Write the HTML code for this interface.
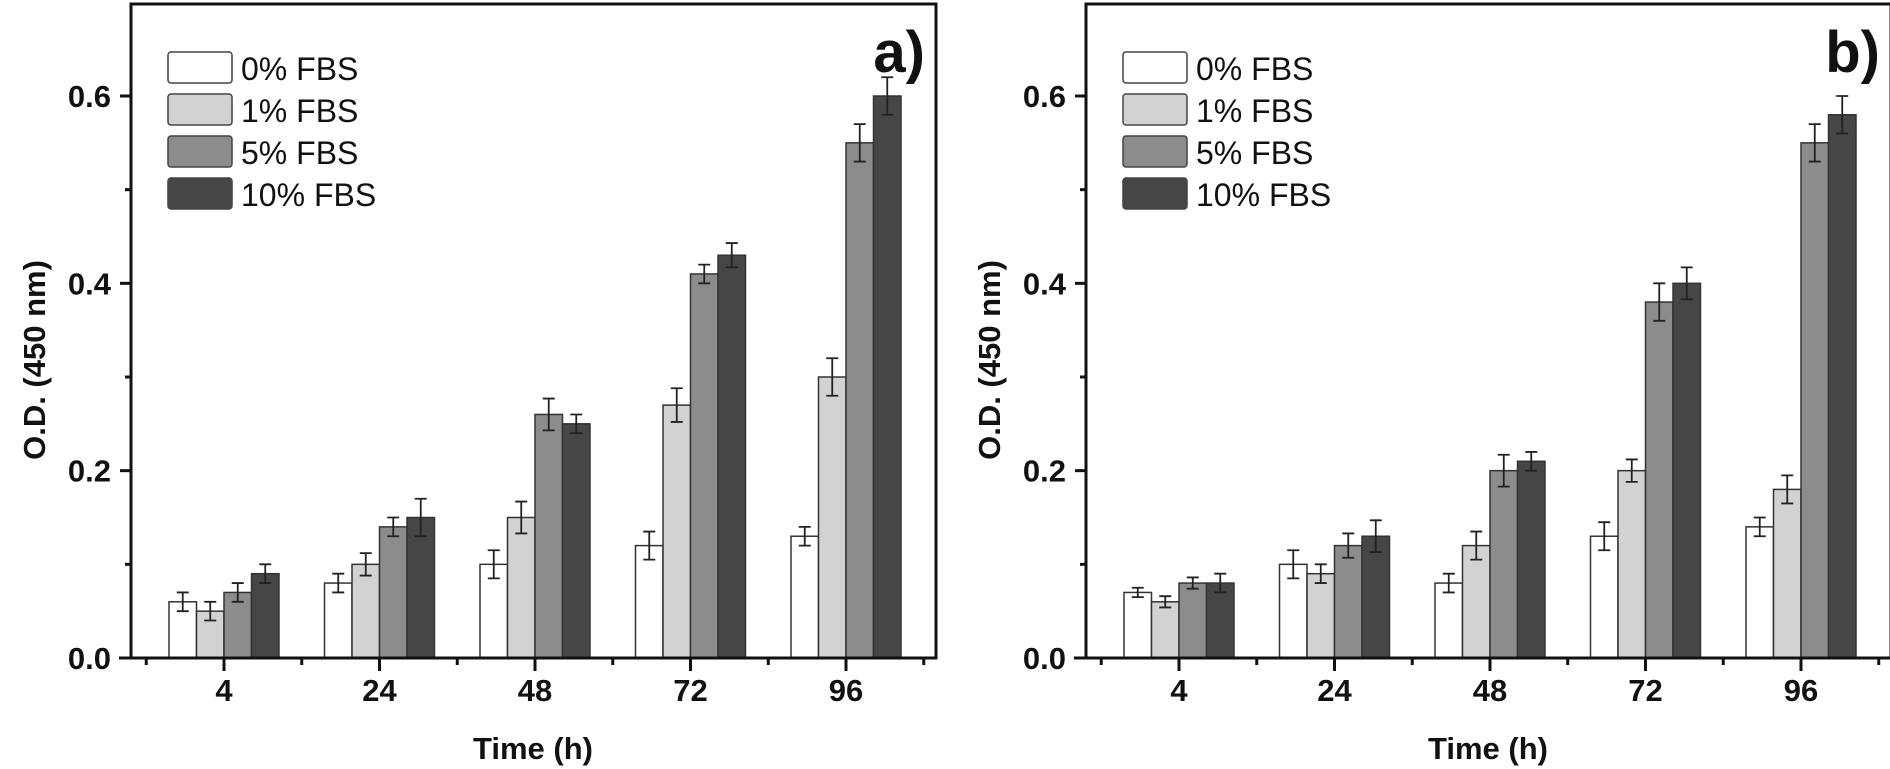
<!DOCTYPE html>
<html><head><meta charset="utf-8"><style>
html,body{margin:0;padding:0;background:#fff}
svg{display:block}
text{font-family:"Liberation Sans",sans-serif}
</style></head><body>
<svg id="chart" width="1890" height="769" xmlns="http://www.w3.org/2000/svg"></svg>
<script>
const categories=["4","24","48","72","96"];
const seriesNames=["0% FBS","1% FBS","5% FBS","10% FBS"];
const seriesColors=["#ffffff","#d2d2d2","#8c8c8c","#464646"];
const yTicks=[0,0.2,0.4,0.6];
const yTickLabels=["0.0","0.2","0.4","0.6"];
const aVals0=[0.06,0.08,0.10,0.12,0.13];
const aVals1=[0.05,0.10,0.15,0.27,0.30];
const aVals2=[0.07,0.14,0.26,0.41,0.55];
const aVals3=[0.09,0.15,0.25,0.43,0.60];
const aErr0=[0.01,0.01,0.015,0.015,0.01];
const aErr1=[0.01,0.012,0.017,0.018,0.02];
const aErr2=[0.01,0.01,0.017,0.01,0.02];
const aErr3=[0.01,0.02,0.01,0.013,0.02];
const bVals0=[0.07,0.10,0.08,0.13,0.14];
const bVals1=[0.06,0.09,0.12,0.20,0.18];
const bVals2=[0.08,0.12,0.20,0.38,0.55];
const bVals3=[0.08,0.13,0.21,0.40,0.58];
const bErr0=[0.005,0.015,0.01,0.015,0.01];
const bErr1=[0.006,0.01,0.015,0.012,0.015];
const bErr2=[0.006,0.013,0.017,0.02,0.02];
const bErr3=[0.01,0.017,0.01,0.017,0.02];

const NS="http://www.w3.org/2000/svg";
const svg=document.getElementById('chart');
function mk(tag,attrs,parent,txt){const e=document.createElementNS(NS,tag);for(const k in attrs)e.setAttribute(k,attrs[k]);if(txt!==undefined)e.textContent=txt;parent.appendChild(e);return e;}

function panel(off,label,vals,errs,pname){
  const g=mk('g',{},svg);
  
  
  const L=131+off,R=936+off,T=4,B=658;
  const y=v=>B-v*(B-96)/0.6;
  const xc=i=>224+off+155.5*i;
  const bw=27.5;
  for(let s=0;s<4;s++){
    for(let i=0;i<5;i++){
      const x0=xc(i)-2*bw+bw*s;
      const r=mk('rect',{x:x0,y:y(vals[s][i]),width:bw,height:B-y(vals[s][i]),fill:seriesColors[s],stroke:"#333",'stroke-width':1.5},g);
      
      
      const cx=x0+bw/2,t=y(vals[s][i]+errs[s][i]),b=y(vals[s][i]-errs[s][i]);
      const e=mk('path',{d:`M${cx},${t}V${b}M${cx-6},${t}H${cx+6}M${cx-6},${b}H${cx+6}`,stroke:"#222",'stroke-width':1.8,fill:"none"},g);
      
      
    }
  }
  const f=mk('rect',{x:L,y:T,width:R-L,height:B-T,fill:"none",stroke:"#111",'stroke-width':3},g);
  
  
  mk('line',{x1:L-12,y1:B,x2:L,y2:B,stroke:"#111",'stroke-width':3},g);
  for(let k=0;k<yTicks.length;k++){
    mk('line',{x1:L-11,y1:y(yTicks[k]),x2:L,y2:y(yTicks[k]),stroke:"#111",'stroke-width':3},g);
    const t=mk('text',{x:L-20,y:y(yTicks[k])+11,'text-anchor':'end','font-size':31,'font-weight':'bold',fill:"#111"},g,yTickLabels[k]);
    
    
  }
  for(let k=0;k<3;k++){mk('line',{x1:L-6,y1:y(yTicks[k]+0.1),x2:L,y2:y(yTicks[k]+0.1),stroke:"#111",'stroke-width':3},g);}
  for(let i=0;i<5;i++){
    mk('line',{x1:xc(i),y1:B,x2:xc(i),y2:B+13,stroke:"#111",'stroke-width':3},g);
    mk('line',{x1:xc(i)-77.75,y1:B,x2:xc(i)-77.75,y2:B+7,stroke:"#111",'stroke-width':3},g);
    const t=mk('text',{x:xc(i),y:701,'text-anchor':'middle','font-size':31,'font-weight':'bold',fill:"#111"},g,categories[i]);
    
    
  }
  mk('line',{x1:xc(4)+77.75,y1:B,x2:xc(4)+77.75,y2:B+7,stroke:"#111",'stroke-width':3},g);
  const xt=mk('text',{x:533+off,y:759,'text-anchor':'middle','font-size':31,'font-weight':'bold',fill:"#111"},g,"Time (h)");
  
  
  const yt=mk('text',{x:0,y:0,transform:`translate(${45+off},360) rotate(-90)`,'text-anchor':'middle','font-size':31,'font-weight':'bold',fill:"#111"},g,"O.D. (450 nm)");
  
  
  const pl=mk('text',{x:925+off,y:72,'text-anchor':'end','font-size':58,'font-weight':'bold',fill:"#111"},g,label);
  
  
  for(let s=0;s<4;s++){
    const ly=52+42*s;
    const lr=mk('rect',{x:168+off,y:ly,width:64,height:31,rx:3,fill:seriesColors[s],stroke:"#444",'stroke-width':1.5},g);
    
    
    const lt=mk('text',{x:241+off,y:ly+28,'font-size':32,fill:"#111"},g,seriesNames[s]);
    
    
  }
}
panel(0,"a)",[aVals0,aVals1,aVals2,aVals3],[aErr0,aErr1,aErr2,aErr3],'panel-a');
panel(955,"b)",[bVals0,bVals1,bVals2,bVals3],[bErr0,bErr1,bErr2,bErr3],'panel-b');
</script>
</body></html>
